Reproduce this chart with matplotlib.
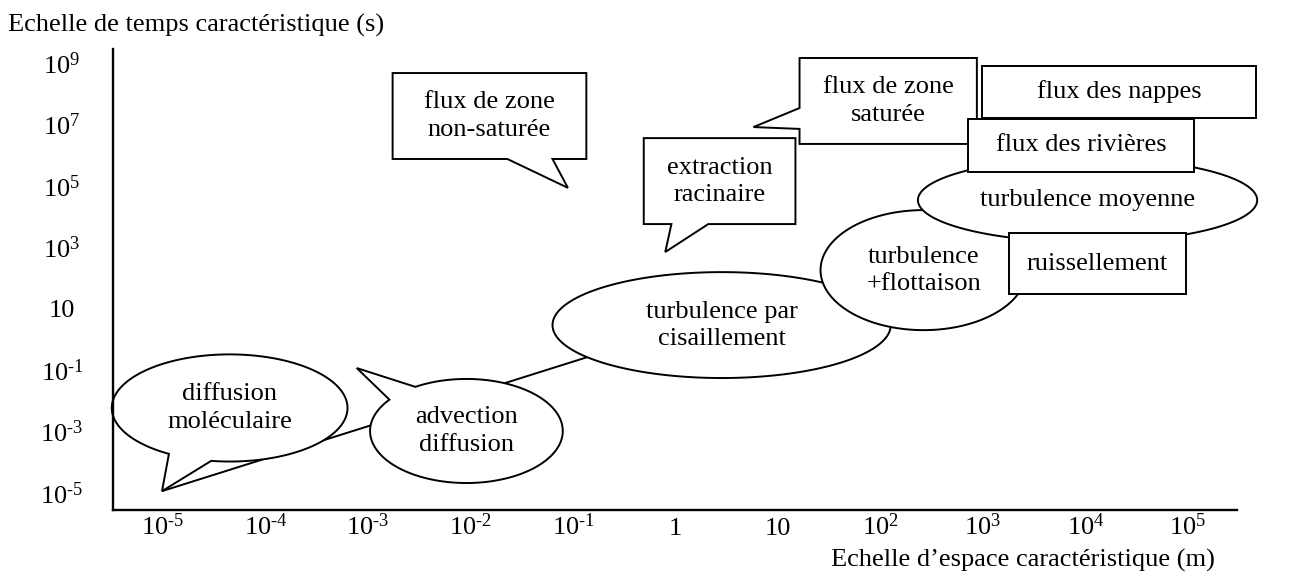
import numpy as np
import matplotlib
matplotlib.use("Agg")
import matplotlib.pyplot as plt
from matplotlib.patches import Polygon

plt.rcParams['font.family'] = ['Liberation Serif', 'DejaVu Serif']
plt.rcParams['mathtext.fontset'] = 'custom'
plt.rcParams['mathtext.rm'] = 'Liberation Serif'
plt.rcParams['mathtext.it'] = 'Liberation Serif:italic'

# --- axes: log10 of space (m) and time (s) ---
x_exp = [-5, -4, -3, -2, -1, 0, 1, 2, 3, 4, 5]
y_exp = [-5, -3, -1, 1, 3, 5, 7, 9]

# --- ellipse processes: centre / extent in decades ---
ell_labels = ['diffusion\nmoléculaire', 'advection\ndiffusion',
              'turbulence par\ncisaillement', 'turbulence\n+flottaison',
              'turbulence moyenne']
ell_x = [-4.35, -2.04, 0.45, 2.42, 4.02]
ell_y = [-2.23, -2.98, 0.47, 2.26, 4.54]
ell_w = [2.30, 1.88, 3.30, 2.01, 3.31]
ell_h = [3.49, 3.39, 3.45, 3.91, 2.74]
# callout tail: (angle start, angle end, tip x, tip y)
ell_tail = [(239, 261, -5.01, -4.94), (122, 143, -3.11, -0.93), None, None, None]

# --- box processes ---
box_labels = ['flux de zone\nnon-saturée', 'extraction\nracinaire',
              'flux de zone\nsaturée', 'flux des nappes',
              'flux des rivières', 'ruissellement']
box_x0 = [-2.76, -0.31, 1.21, 2.99, 2.85, 3.25]
box_x1 = [-0.87, 1.17, 2.94, 5.66, 5.06, 4.98]
box_y0 = [5.88, 3.76, 6.37, 7.22, 5.46, 1.48]
box_y1 = [8.68, 6.56, 9.17, 8.91, 7.18, 3.47]
# callout tail: (side, base a, base b, tip x, tip y)
box_tail = [('bottom', -1.64, -1.20, -1.05, 4.94),
            ('bottom', -0.04, 0.32, -0.10, 2.85),
            ('left', 6.86, 7.54, 0.76, 6.92),
            None, None, None]

# connecting line between the small-scale processes
link_x = [-5.01, -0.40]
link_y = [-4.94, -0.09]


def ellipse_pts(cx, cy, w, h, tail):
    if tail is None:
        t = np.linspace(0, 2 * np.pi, 240)
        return np.column_stack([cx + w / 2 * np.cos(t), cy + h / 2 * np.sin(t)])
    a0, a1, tx, ty = tail
    t = np.radians(np.linspace(a1, a0 + 360, 240))
    pts = np.column_stack([cx + w / 2 * np.cos(t), cy + h / 2 * np.sin(t)])
    return np.vstack([pts, [[tx, ty]]])


def box_pts(x0, x1, y0, y1, tail):
    if tail is None:
        return [(x0, y0), (x1, y0), (x1, y1), (x0, y1)]
    side, b0, b1, tx, ty = tail
    if side == 'bottom':
        return [(x0, y1), (x1, y1), (x1, y0), (max(b0, b1), y0), (tx, ty),
                (min(b0, b1), y0), (x0, y0)]
    return [(x0, y1), (x1, y1), (x1, y0), (x0, y0), (x0, min(b0, b1)),
            (tx, ty), (x0, max(b0, b1))]


W, H = 1305, 575
fig = plt.figure(figsize=(W / 100, H / 100), dpi=100)
ax = fig.add_axes([113 / W, 1 - 510 / H, (1237 - 113) / W, (510 - 49) / H])
ax.set_xlim(-5.488, 5.478)
ax.set_ylim(-5.554, 9.463)

fs = 19
lw = 1.4
lsp = 1.3

ax.plot(link_x, link_y, color='black', lw=lw, zorder=1, solid_capstyle='butt')

for i, lab in enumerate(ell_labels):
    pts = ellipse_pts(ell_x[i], ell_y[i], ell_w[i], ell_h[i], ell_tail[i])
    ax.add_patch(Polygon(pts, closed=True, facecolor='white', edgecolor='black',
                         lw=lw, zorder=2 + i, clip_on=False))
    ax.text(ell_x[i], ell_y[i], lab, ha='center', va='center', fontsize=fs,
            linespacing=lsp, zorder=2.5 + i)

box_z = [7, 7, 7, 7, 8, 8]
for i, lab in enumerate(box_labels):
    pts = box_pts(box_x0[i], box_x1[i], box_y0[i], box_y1[i], box_tail[i])
    ax.add_patch(Polygon(pts, closed=True, facecolor='white', edgecolor='black',
                         lw=lw, zorder=box_z[i], clip_on=False, joinstyle='miter'))
    ax.text((box_x0[i] + box_x1[i]) / 2, (box_y0[i] + box_y1[i]) / 2, lab,
            ha='center', va='center', fontsize=fs, linespacing=lsp,
            zorder=box_z[i] + 0.5)

# --- axis styling ---
for s in ['top', 'right']:
    ax.spines[s].set_visible(False)
for s in ['left', 'bottom']:
    ax.spines[s].set_linewidth(1.7)
    ax.spines[s].set_zorder(20)

def exp_label(k):
    if k == 0:
        return '1'
    if k == 1:
        return '10'
    sign = '\u2010' if k < 0 else ''
    return r'$\mathregular{10^{%s%d}}$' % (sign, abs(k))

ax.set_xticks(x_exp)
ax.set_xticklabels([exp_label(k) for k in x_exp], fontsize=fs)
ax.set_yticks(y_exp)
ax.set_yticklabels([exp_label(k) for k in y_exp], fontsize=fs)
ax.tick_params(axis='both', length=0)
ax.tick_params(axis='x', pad=18)
ax.tick_params(axis='y', pad=36.7)
for t in ax.get_xticklabels():
    t.set_verticalalignment('baseline')
for t in ax.get_yticklabels():
    t.set_horizontalalignment('center')

ax.set_xlabel('Echelle d’espace caractéristique (m)', fontsize=fs,
              ha='right', va='center')
ax.xaxis.set_label_coords((1215 - 113) / 1124, (510 - 560) / 461)
ax.set_ylabel('Echelle de temps caractéristique (s)', fontsize=fs,
              rotation=0, ha='left', va='center')
ax.yaxis.set_label_coords((8 - 113) / 1124, (510 - 25) / 461)

fig.savefig('out.png', dpi=100)
plt.close(fig)
